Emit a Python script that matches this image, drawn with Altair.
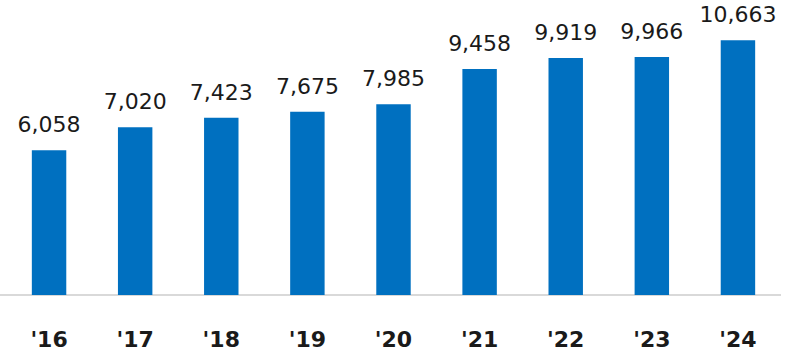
import altair as alt
import pandas as pd

years = ["'16", "'17", "'18", "'19", "'20", "'21", "'22", "'23", "'24"]
values = [6058, 7020, 7423, 7675, 7985, 9458, 9919, 9966, 10663]

df = pd.DataFrame({"year": years, "value": values})

base = alt.Chart(df).encode(
    x=alt.X(
        "year:N",
        sort=years,
        scale=alt.Scale(paddingInner=0.6, paddingOuter=0.3),
        axis=alt.Axis(
            title=None,
            labelAngle=0,
            ticks=False,
            tickSize=0,
            domain=False,
            labelFont="DejaVu Sans",
            labelFontWeight="bold",
            labelFontSize=22,
            labelColor="#1a1a1a",
            labelPadding=51,
            labelBaseline="alphabetic",
        ),
    ),
    y=alt.Y("value:Q", scale=alt.Scale(domain=[0, 12348], nice=False), axis=None),
)

baseline = alt.Chart(df).mark_rule(color="#D9D9D9", strokeWidth=2).encode(
    x=alt.value(-6), x2=alt.value(775), y=alt.value(295)
)

bars = base.mark_bar(color="#0070C0")
text = base.mark_text(
    dy=-18, baseline="alphabetic", font="DejaVu Sans", fontSize=22, color="#1a1a1a"
).encode(text=alt.Text("value:Q", format=","))

chart = (
    (baseline + bars + text)
    .properties(
        width=775,
        height=295,
        autosize="none",
        padding={"left": 6, "top": 0, "right": 19, "bottom": 59},
        background="white",
    )
    .configure_view(stroke=None)
)

chart.save("out.html", embed_options={"renderer": "svg", "actions": False})
